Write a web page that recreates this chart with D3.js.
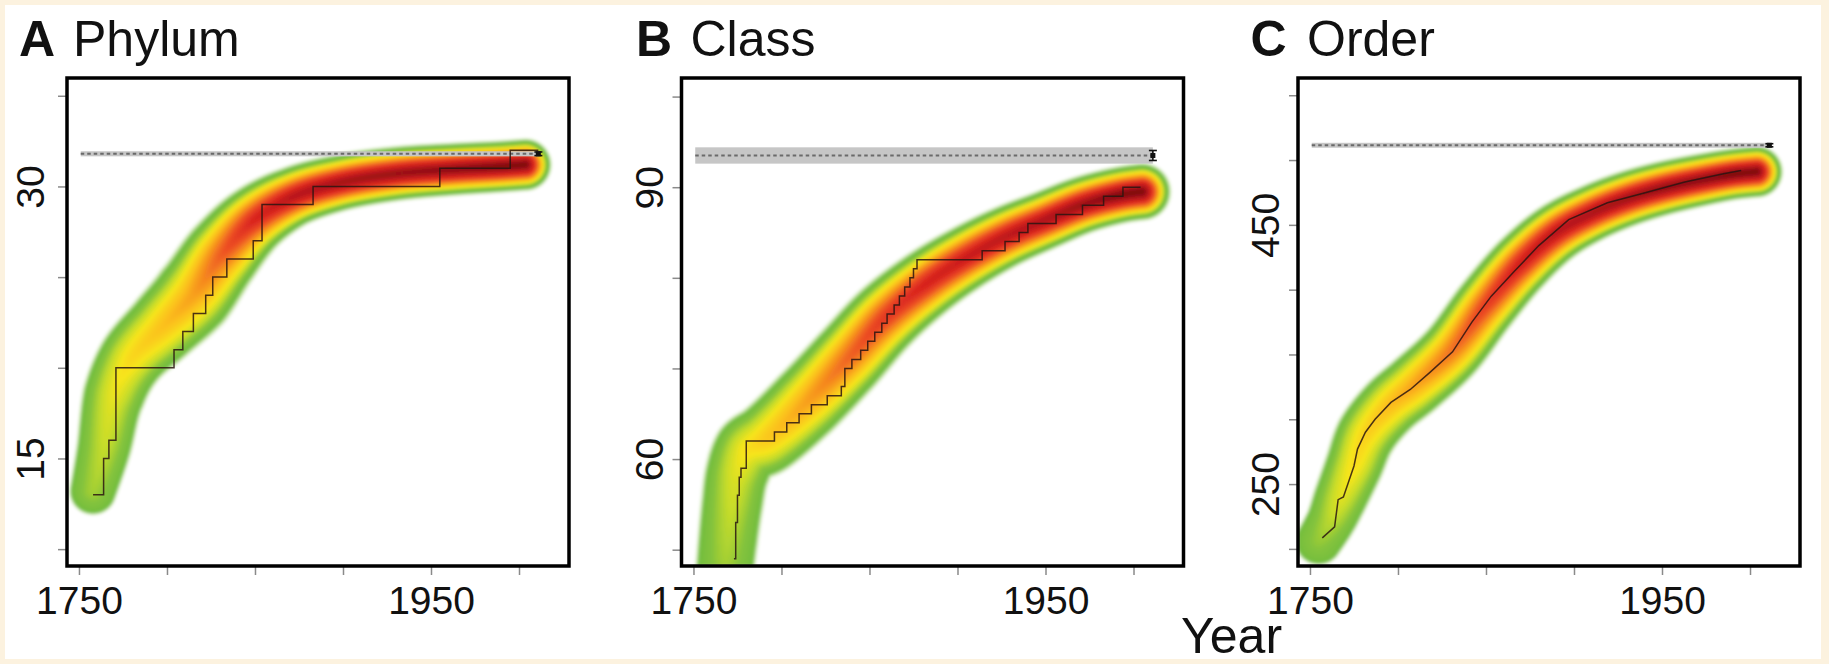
<!DOCTYPE html>
<html>
<head>
<meta charset="utf-8">
<script src="https://cdn.jsdelivr.net/npm/d3@7/dist/d3.min.js"></script>
<style>
html,body{margin:0;padding:0;background:#fcf2df;overflow:hidden}
svg{display:block}
text{font-family:"Liberation Sans",Arial,Helvetica,sans-serif;fill:#111}
</style>
</head>
<body>
<svg id="chart" width="1829" height="664"></svg>
<script>
// ---------------- data ----------------
const panelLetters = ["A","B","C"];
const panelTitles = ["Phylum","Class","Order"];
const xAxisTitle = "Year";
const xTickValues = [1750,1800,1850,1900,1950,2000];
const xTickLabels = ["1750","","","","1950",""];

const phylumYTicks = [10,15,20,25,30,35];
const phylumYLabels = ["","15","","","30",""];
const classYTicks = [50,60,70,80,90,100];
const classYLabels = ["","60","","","90",""];
const orderYTicks = [200,250,300,350,400,450,500,550];
const orderYLabels = ["","250","","","","450","",""];

// observed cumulative number of described taxa
const phylumObsYears  = [1758,1764,1767,1771,1804,1809,1815,1822,1826,1834,1849,1854,1883,1955,1995,2011];
const phylumObsCounts = [13,15,16,20,21,22,23,24,25,26,27,29,30,31,32,32];

const classObsYears  = [1773,1774,1775,1776,1777,1780,1796,1803,1810,1817,1826,1834,1836,1840,1845,1849,1853,1857,1860,1864,1867,1870,1873,1875,1877,1914,1927,1935,1940,1956,1971,1983,1994,2004];
const classObsCounts = [49,53,56,58,59,62,63,64,65,66,67,68,70,71,72,73,74,75,76,77,78,79,80,81,82,83,84,85,86,87,88,89,90,90];

const orderObsYears  = [1757,1764,1766,1769,1775,1777,1781.5,1787,1796,1807,1818,1831,1842,1853,1866,1880,1897,1919,1941,1963,1985,1995];
const orderObsCounts = [208.5,217,238,240,264,277,290,300,313,323,336,352,375,395,414,434,454,467,475,483,489.5,492];

// predicted density band: centre, spread (value units) and relative density
const phylumBandYears  = [1758,1764,1770,1780,1798,1815,1831,1849,1871,1898,1930,1963,1990,2004];
const phylumBandCenter = [13.2,15.5,18.5,20.5,22.3,24.0,26.2,28.1,29.4,30.2,30.7,30.95,31.1,31.2];
const phylumBandSpread = [1.38,1.6,1.85,2.0,2.2,2.4,2.3,2.05,1.8,1.67,1.6,1.55,1.52,1.52];
const phylumDensity    = [0.3,0.34,0.4,0.46,0.52,0.58,0.7,0.82,0.9,0.94,0.96,0.98,1,1];

const classBandYears  = [1767,1769,1772,1775,1781,1792,1814,1837,1859,1882,1904,1927,1949,1972,1994,2005];
const classBandCenter = [46,50,55,58.5,61,62.3,66.2,70.9,75.6,79.3,82.1,84.5,86.3,88.1,89.2,89.5];
const classBandSpread = [3.4,3.5,3.65,3.8,4.1,4.3,4.5,4.5,4.35,4.1,3.85,3.65,3.5,3.4,3.35,3.35];
const classDensity    = [0.28,0.31,0.35,0.39,0.44,0.5,0.58,0.68,0.77,0.83,0.86,0.89,0.92,0.96,1,1];

const orderBandYears  = [1755,1762,1767,1775,1782,1795,1810,1830,1850,1870,1890,1910,1930,1950,1970,1990,2004];
const orderBandCenter = [206,222,238,264,288,310,327,352,388,420,444,459,470,478,484,489,491];
const orderBandSpread = [19.5,20.6,22.4,24.2,25.4,26,26.5,26.5,26.5,26,24.8,23.6,23,22.4,21.8,21.2,21.2];
const orderDensity    = [0.28,0.33,0.38,0.44,0.48,0.53,0.58,0.66,0.76,0.85,0.9,0.93,0.95,0.97,0.98,1,1];

// asymptotic estimate of total richness (with CI band and error bar)
const estimateYears = [1751, 2011];
const estimateValue = [31.8, 93.5, 511.4];
const estimateLow   = [31.66, 92.6, 509.5];
const estimateHigh  = [31.94, 94.4, 513.3];
const errorLow      = [31.7, 92.95, 510.2];
const errorHigh     = [31.9, 94.05, 512.6];

// ---------------- layout / style ----------------
const W = 502, H = 488, TOP = 78;
const panelLeft = [67, 681.5, 1298];
const yLabelGap = [23.5, 18.5, 19.5];
const xDomain = [1743.2, 2028.4];
const yDomains = [[9.07,35.98],[48.2,102.05],[186.8,563.3]];
const titleLetterX = [19, 636, 1250.5];
const titleWordX = [73, 690.5, 1307];
const FONT_TICK = 39, FONT_TITLE = 50;

const heatStops  = [0,0.04,0.10,0.16,0.26,0.34,0.42,0.52,0.62,0.72,0.82,0.92,1];
const heatColors = ["#ffffff","#eef7e6","#b2da86","#6cbb3c","#84c33c","#c5dc2b","#f7e51b","#fbc01b","#f68b1f","#ec4d23","#d9241f","#b1151a","#7e0c0f"];
const EDGE_T = 0.2, EDGE_U = 0.8, CORE_EXP = 1.5;

const panels = [
  {yTicks:phylumYTicks, yLabels:phylumYLabels, obsX:phylumObsYears, obsY:phylumObsCounts, curve:d3.curveStepAfter,
   bY:phylumBandYears, bC:phylumBandCenter, bS:phylumBandSpread, bD:phylumDensity},
  {yTicks:classYTicks, yLabels:classYLabels, obsX:classObsYears, obsY:classObsCounts, curve:d3.curveStepAfter,
   bY:classBandYears, bC:classBandCenter, bS:classBandSpread, bD:classDensity},
  {yTicks:orderYTicks, yLabels:orderYLabels, obsX:orderObsYears, obsY:orderObsCounts, curve:d3.curveLinear,
   bY:orderBandYears, bC:orderBandCenter, bS:orderBandSpread, bD:orderDensity}
];

const svg = d3.select("#chart");
const defs = svg.append("defs");
defs.append("filter").attr("id","soft")
  .append("feGaussianBlur").attr("stdDeviation",1.5);

svg.append("rect").attr("width",1829).attr("height",664).attr("fill","#fcf2df");
svg.append("rect").attr("x",5).attr("y",5).attr("width",1816).attr("height",654).attr("fill","#ffffff");

const heatScale = d3.scaleLinear().domain(heatStops).range(heatColors).interpolate(d3.interpolateRgb);
const lut = d3.range(256).map(i => d3.rgb(heatScale(i/255)));

function profile(u, pk) {
  if (u >= 1) return 0;
  if (u > EDGE_U) return EDGE_T * (1 - u) / (1 - EDGE_U);
  const top = Math.max(pk, EDGE_T);
  return EDGE_T + (top - EDGE_T) * (1 - Math.pow(u / EDGE_U, CORE_EXP));
}

function drawHeat(g, p, xs, ys) {
  const pxPerUnit = Math.abs(ys(1) - ys(0));
  const wS = d3.scaleLinear().domain(p.bY).range(p.bS.map(s => s * pxPerUnit)).clamp(true);
  const dS = d3.scaleLinear().domain(p.bY).range(p.bD).clamp(true);
  const pts = p.bY.map((yr,i) => [xs(yr), ys(p.bC[i])]);
  const path = g.append("path")
    .attr("d", d3.line().curve(d3.curveCatmullRom.alpha(0.5))(pts))
    .attr("fill","none").attr("stroke","none");
  const node = path.node();
  const L = node.getTotalLength();
  const I = new Float32Array(W*H);
  for (let s = 0; s <= L; s += 0.7) {
    const q = node.getPointAtLength(s);
    const yr = xs.invert(q.x);
    const w = wS(yr), pk = dS(yr);
    const x0 = Math.max(0, Math.floor(q.x - w)), x1 = Math.min(W-1, Math.ceil(q.x + w));
    const y0 = Math.max(0, Math.floor(q.y - w)), y1 = Math.min(H-1, Math.ceil(q.y + w));
    for (let y = y0; y <= y1; y++) {
      const dy = y + 0.5 - q.y;
      for (let x = x0; x <= x1; x++) {
        const dx = x + 0.5 - q.x;
        const d = Math.sqrt(dx*dx + dy*dy);
        if (d < w) {
          const v = profile(d / w, pk);
          const idx = y*W + x;
          if (v > I[idx]) I[idx] = v;
        }
      }
    }
  }
  path.remove();
  const cv = document.createElement("canvas");
  cv.width = W; cv.height = H;
  const ctx = cv.getContext("2d");
  const img = ctx.createImageData(W, H);
  for (let i = 0; i < W*H; i++) {
    const v = I[i];
    if (v <= 0) continue;
    const c = lut[Math.min(255, Math.round(v*255))];
    img.data[4*i] = c.r; img.data[4*i+1] = c.g; img.data[4*i+2] = c.b; img.data[4*i+3] = 255;
  }
  ctx.putImageData(img, 0, 0);
  g.append("image").attr("href", cv.toDataURL()).attr("x",0).attr("y",0)
    .attr("width", W).attr("height", H).attr("filter","url(#soft)");
}

panels.forEach((p, k) => {
  const g = svg.append("g").attr("transform", `translate(${panelLeft[k]},${TOP})`);
  const xs = d3.scaleLinear().domain(xDomain).range([0, W]);
  const ys = d3.scaleLinear().domain(yDomains[k]).range([H, 0]);

  defs.append("clipPath").attr("id", "clip"+k).append("rect").attr("width", W).attr("height", H);
  const plot = g.append("g").attr("clip-path", `url(#clip${k})`);

  drawHeat(plot, p, xs, ys);

  // estimate band + dotted line
  plot.append("rect")
    .attr("x", xs(estimateYears[0])).attr("width", xs(estimateYears[1]) - xs(estimateYears[0]))
    .attr("y", ys(estimateHigh[k])).attr("height", ys(estimateLow[k]) - ys(estimateHigh[k]))
    .attr("fill", "#c6c6c6");
  plot.append("line")
    .attr("x1", xs(estimateYears[0])).attr("x2", xs(estimateYears[1]))
    .attr("y1", ys(estimateValue[k])).attr("y2", ys(estimateValue[k]))
    .attr("stroke", "#6a6a6a").attr("stroke-width", 2).attr("stroke-dasharray", "3.5,3");

  // observed accumulation curve
  plot.append("path")
    .attr("d", d3.line().x(d=>xs(d)).y((d,i)=>ys(p.obsY[i])).curve(p.curve)(p.obsX))
    .attr("fill","none").attr("stroke","#2a1510").attr("stroke-width",1.5).attr("stroke-opacity",0.85);

  // end marker with error bar
  const ex = xs(estimateYears[1]);
  g.append("line").attr("x1", ex).attr("x2", ex)
    .attr("y1", ys(errorHigh[k])).attr("y2", ys(errorLow[k]))
    .attr("stroke","#111").attr("stroke-width",1.6);
  [errorHigh[k], errorLow[k]].forEach(v => {
    g.append("line").attr("x1", ex-4).attr("x2", ex+4).attr("y1", ys(v)).attr("y2", ys(v))
      .attr("stroke","#111").attr("stroke-width",1.6);
  });
  g.append("rect").attr("x", ex-2.5).attr("y", ys(estimateValue[k])-2.5).attr("width",5).attr("height",5).attr("fill","#111");

  // axes
  const xAxis = g.append("g").attr("transform", `translate(0,${H})`)
    .call(d3.axisBottom(xs).tickValues(xTickValues).tickFormat((d,i)=>xTickLabels[i]).tickSize(9));
  xAxis.select(".domain").remove();
  xAxis.selectAll(".tick line").attr("stroke","#8a8a8a").attr("stroke-width",1.5);
  xAxis.selectAll(".tick text").attr("y", 48).attr("dy", 0)
    .style("font-size", FONT_TICK+"px").style("font-family", '"Liberation Sans",Arial,sans-serif').attr("fill","#111");

  const yAxis = g.append("g")
    .call(d3.axisLeft(ys).tickValues(p.yTicks).tickFormat((d,i)=>p.yLabels[i]).tickSize(9));
  yAxis.select(".domain").remove();
  yAxis.selectAll(".tick line").attr("stroke","#8a8a8a").attr("stroke-width",1.5);
  yAxis.selectAll(".tick text")
    .attr("x", 0).attr("y", 0).attr("dy", 0)
    .attr("text-anchor","middle")
    .attr("transform", `translate(${-yLabelGap[k]},0) rotate(-90)`)
    .style("font-size", FONT_TICK+"px").style("font-family", '"Liberation Sans",Arial,sans-serif').attr("fill","#111");

  // frame
  g.append("rect").attr("width", W).attr("height", H)
    .attr("fill","none").attr("stroke","#000").attr("stroke-width",3.5);

  // title
  svg.append("text").attr("x", titleLetterX[k]).attr("y", 56)
    .style("font-size", FONT_TITLE+"px").style("font-weight","bold").text(panelLetters[k]);
  svg.append("text").attr("x", titleWordX[k]).attr("y", 56)
    .style("font-size", FONT_TITLE+"px").text(panelTitles[k]);
});

svg.append("text").attr("x", 1181).attr("y", 653)
  .style("font-size", FONT_TITLE+"px").text(xAxisTitle);
</script>
</body>
</html>
